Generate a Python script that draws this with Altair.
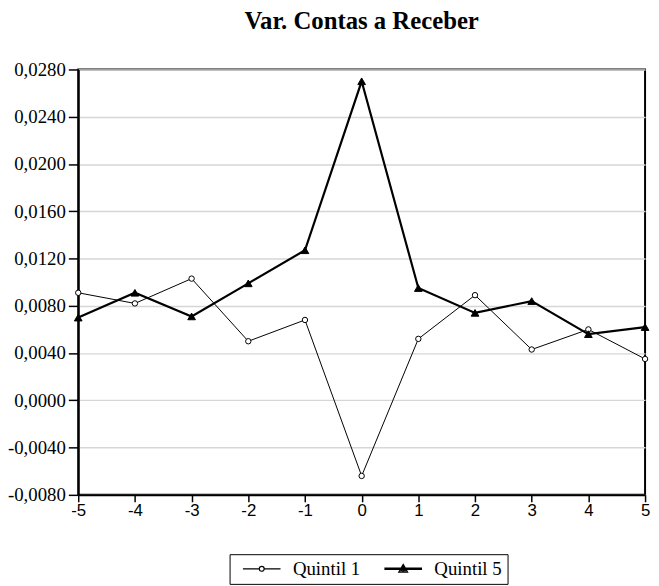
import altair as alt
import pandas as pd

periods = [-5, -4, -3, -2, -1, 0, 1, 2, 3, 4, 5]
quintil_1 = [0.0091, 0.0082, 0.0103, 0.0050, 0.0068, -0.0064, 0.0052, 0.0089, 0.0043, 0.0060, 0.0035]
quintil_5 = [0.0070, 0.0091, 0.0071, 0.0099, 0.0127, 0.0270, 0.0095, 0.0074, 0.0084, 0.0056, 0.0062]
series_names = ["Quintil 1", "Quintil 5"]
y_ticks = [-0.008, -0.004, 0.0, 0.004, 0.008, 0.012, 0.016, 0.020, 0.024, 0.028]
title_text = "Var. Contas a Receber"

rows = []
for p, v in zip(periods, quintil_1):
    rows.append({"period": p, "value": v, "series": series_names[0]})
for p, v in zip(periods, quintil_5):
    rows.append({"period": p, "value": v, "series": series_names[1]})
df = pd.DataFrame(rows)

x_enc = alt.X(
    "period:Q",
    scale=alt.Scale(domain=[-5, 5], nice=False, zero=False),
    axis=alt.Axis(
        values=periods, title=None, grid=False,
        labelExpr="datum.value < 0 ? '-' + abs(datum.value) : '' + datum.value",
        labelFont="Liberation Sans", labelFontSize=17, labelColor="black",
        tickColor="black", tickSize=7, tickWidth=1.5, labelPadding=1,
        domainColor="black", domainWidth=2, labelFlush=False,
    ),
)
y_enc = alt.Y(
    "value:Q",
    scale=alt.Scale(domain=[-0.008, 0.028], nice=False, zero=False),
    axis=alt.Axis(
        values=y_ticks, title=None, grid=True, gridColor="#d6d6d6", gridWidth=1.5,
        labelExpr="replace(replace(format(datum.value, '.4f'), '.', ','), '\u2212', '-')",
        labelFont="Liberation Serif", labelFontSize=19, labelColor="black",
        tickColor="black", tickSize=10, tickWidth=1.5, labelPadding=3,
        domainColor="black", domainWidth=2,
    ),
)

lines = alt.Chart(df).mark_line(color="black").encode(
    x=x_enc, y=y_enc,
    detail="series:N",
    strokeWidth=alt.StrokeWidth("series:N", scale=alt.Scale(domain=series_names, range=[1, 2.2]), legend=None),
)

points = alt.Chart(df).mark_point(filled=True, stroke="black", strokeWidth=1, opacity=1).encode(
    x="period:Q", y="value:Q",
    shape=alt.Shape("series:N", scale=alt.Scale(domain=series_names, range=["circle", "triangle-up"]), legend=None),
    fill=alt.Fill("series:N", scale=alt.Scale(domain=series_names, range=["white", "black"]), legend=None),
    size=alt.Size("series:N", scale=alt.Scale(domain=series_names, range=[30, 60]), legend=None),
)

# legend glyphs (1 unit = 5 px): a line with a marker on it
q1_path = ("M-0.2,0H3.1M4.1,0H7.4"
           "M3.1,0A0.5,0.5,0,1,1,4.1,0A0.5,0.5,0,1,1,3.1,0Z")
q5_path = ("M-0.2,-0.12H7.4M-0.2,0.12H7.4"
           "M3.6,-0.9L4.5,0.7L2.7,0.7Z"
           "M3.6,-0.37L4.05,0.43L3.15,0.43Z"
           "M3.6,-0.9V0.7")

legend_layer = alt.Chart(df).transform_filter("false").mark_point(
    filled=False, stroke="black", opacity=1, size=100
).encode(
    x="period:Q", y="value:Q",
    shape=alt.Shape(
        "series:N",
        scale=alt.Scale(domain=series_names, range=[q1_path, q5_path]),
        legend=alt.Legend(
            title=None, orient="none", legendX=153, legendY=490, direction="horizontal",
            columns=2, strokeColor="black", fillColor="white", padding=5,
            labelFont="Liberation Serif", labelFontSize=19, labelColor="black",
            labelOffset=40, columnPadding=15, symbolSize=100, labelLimit=200,
            symbolStrokeColor="black", symbolFillColor="white", symbolStrokeWidth=1.2,
            symbolOpacity=1,
        ),
    ),
)

chart = alt.layer(lines, points, legend_layer).resolve_scale(
    shape="independent", fill="independent", strokeWidth="independent", size="independent"
).properties(
    width=573, height=430,
    padding={"left": 71, "top": 59, "right": 6, "bottom": 89},
    autosize=alt.AutoSizeParams(type="none"),
    title=alt.TitleParams(
        title_text, font="Liberation Serif", fontSize=25, fontWeight="bold",
        color="black", anchor="middle", offset=27,
    ),
).configure_view(stroke="black", strokeWidth=2)

chart.save("out.html", embed_options={"renderer": "svg", "actions": False})
